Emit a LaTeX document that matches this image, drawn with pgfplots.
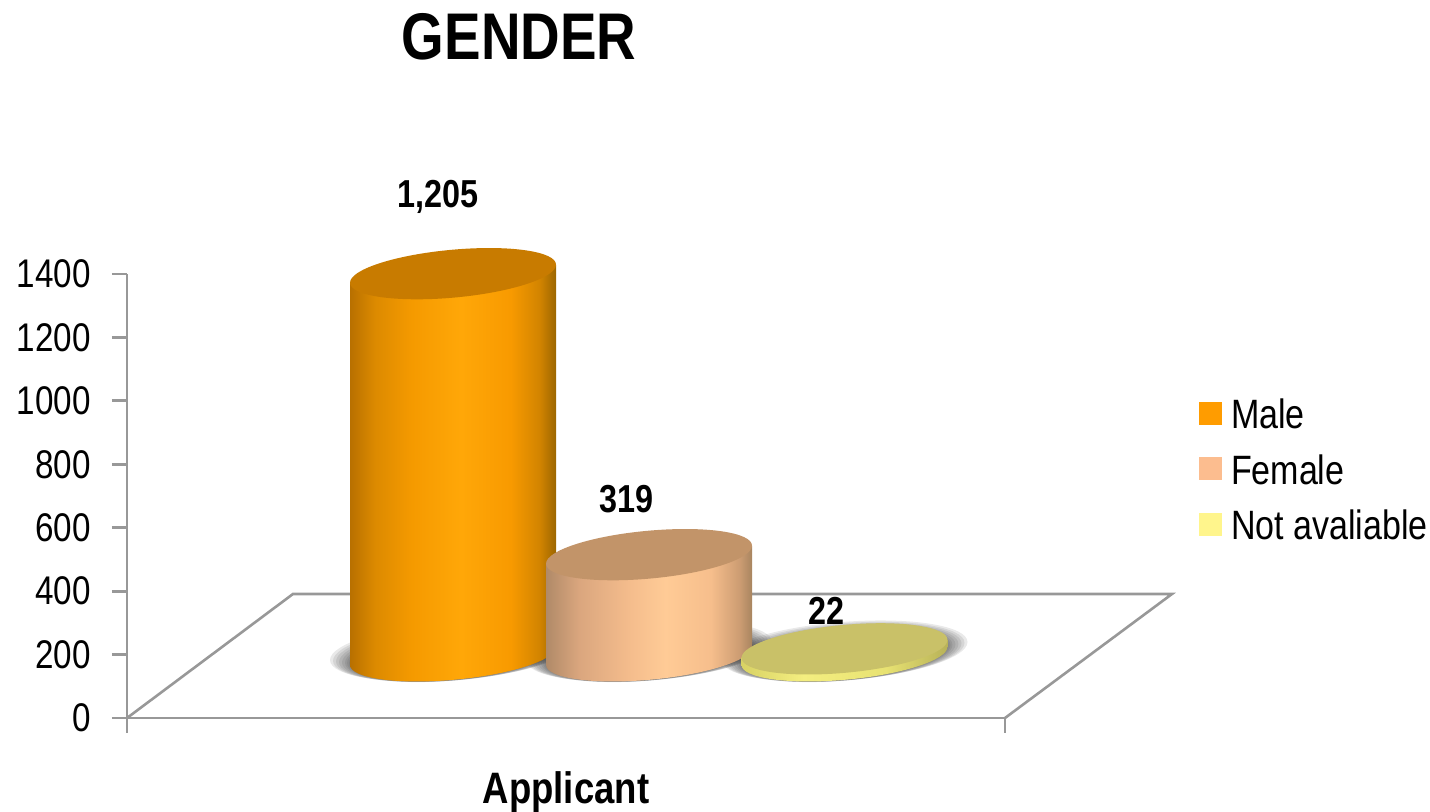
\documentclass[border=0pt]{standalone}
\usepackage{fontspec}
\setmainfont[FakeStretch=0.83]{Liberation Sans}
\usepackage{pgfplots}
\pgfplotsset{compat=1.18}
\definecolor{ax}{HTML}{989898}
\definecolor{mA}{HTML}{B87000}\definecolor{mB}{HTML}{DC8A00}\definecolor{mC}{HTML}{F59A00}\definecolor{mD}{HTML}{FFA708}\definecolor{mE}{HTML}{F89A00}\definecolor{mF}{HTML}{D28400}\definecolor{mG}{HTML}{9C6600}
\definecolor{fA}{HTML}{B08A68}\definecolor{fB}{HTML}{DAA67E}\definecolor{fC}{HTML}{F4BC8C}\definecolor{fD}{HTML}{FFCB96}\definecolor{fE}{HTML}{F6BE8C}\definecolor{fF}{HTML}{CC9C72}\definecolor{fG}{HTML}{A88560}
\definecolor{nA}{HTML}{D8D264}\definecolor{nB}{HTML}{F4EE80}\definecolor{nC}{HTML}{E8E272}\definecolor{nD}{HTML}{B8B258}
\definecolor{topM}{HTML}{C87B00}\definecolor{topF}{HTML}{C29469}\definecolor{topN}{HTML}{C9C168}
\definecolor{legM}{HTML}{FF9C00}\definecolor{legF}{HTML}{FCBD8F}\definecolor{legN}{HTML}{FFF58C}
\pgfdeclarehorizontalshading{cylM}{100bp}{color(0bp)=(mA);color(25bp)=(mA);color(31bp)=(mB);color(40bp)=(mC);color(52bp)=(mD);color(64bp)=(mE);color(71bp)=(mF);color(75bp)=(mG);color(100bp)=(mG)}
\pgfdeclarehorizontalshading{cylF}{100bp}{color(0bp)=(fA);color(25bp)=(fA);color(33bp)=(fB);color(45bp)=(fC);color(54bp)=(fD);color(65bp)=(fE);color(72bp)=(fF);color(75bp)=(fG);color(100bp)=(fG)}
\pgfdeclarehorizontalshading{cylN}{100bp}{color(0bp)=(nA);color(25bp)=(nA);color(40bp)=(nB);color(60bp)=(nC);color(75bp)=(nD);color(100bp)=(nD)}
\newcommand{\ringshadow}[3]{\pgfpathellipse{\pgfqpoint{0pt}{#3}}{\pgfqpoint{#1}{4.5pt}}{\pgfqpoint{0pt}{#2}}\pgfusepathqfill}
\newcommand{\baseellipse}[1]{\pgfpathellipse{\pgfpointorigin}{\pgfqpoint{51.5pt}{4.5pt}}{\pgfqpoint{0pt}{12pt}}\pgfshadepath{#1}{0}\pgfusepath{discard}}
\pgfdeclareplotmark{cyltop}{\pgfpathellipse{\pgfpointorigin}{\pgfqpoint{51.5pt}{4.5pt}}{\pgfqpoint{0pt}{12pt}}\pgfusepathqfill}
\pgfdeclareplotmark{cylshadow}{\pgfsetfillopacity{0.11}%
 \ringshadow{61.5pt}{14.6pt}{2.4pt}\ringshadow{60pt}{14.3pt}{2pt}\ringshadow{58.5pt}{14pt}{1.7pt}\ringshadow{57pt}{13.8pt}{1.4pt}\ringshadow{55.5pt}{13.5pt}{1.2pt}\ringshadow{54pt}{13.3pt}{1pt}\ringshadow{53pt}{13.1pt}{.9pt}\ringshadow{52pt}{13pt}{.8pt}}
\pgfdeclareplotmark{baseM}{\baseellipse{cylM}}
\pgfdeclareplotmark{baseF}{\baseellipse{cylF}}
\pgfdeclareplotmark{baseN}{\baseellipse{cylN}}
\pgfplotsset{every axis/.append style={scale only axis,width=439pt,height=222pt,at={(63.5pt,47pt)},anchor=south west,clip=false,xmin=127,xmax=1005},
  cyl/.style={hide axis,ymin=-196,ymax=1204}}
\begin{document}
\begin{tikzpicture}
\path[use as bounding box] (0,0) rectangle (715pt,406pt);
\begin{axis}[
  ymin=0,ymax=1400,
  axis x line=bottom,axis y line=left,
  axis line style={ax,line width=1.4pt,-},
  x axis line style={-},y axis line style={-},
  xtick={127,1005},xticklabels={},
  ytick={0,200,400,600,800,1000,1200,1400},
  tick style={ax,line width=1.4pt},
  tick align=outside,major tick length=7.5pt,
  /pgf/number format/assume math mode=true,
  /pgf/number format/1000 sep={},
  yticklabel style={font=\fontsize{20}{20}\selectfont,inner sep=0pt,xshift=-10.5pt},
  title={\bfseries GENDER},
  title style={at={(0.4465,1.507)},anchor=center,font=\fontsize{33}{33}\selectfont,inner sep=0pt},
  xlabel={\bfseries Applicant},
  xlabel style={at={(0.5,-0.167)},anchor=center,font=\fontsize{22}{22}\selectfont,inner sep=0pt},
]
\addplot[ax,line width=1.3pt,forget plot] coordinates {(127,0) (293,391) (1172,391) (1005,0)};
\end{axis}
% pgfplots draws an axis's marks after its paths, so each layer of the drawing has its own axis
\begin{axis}[cyl]
\addplot[only marks,mark=cylshadow,mark options={fill=black!80,draw=none},forget plot] coordinates {(453,0) (649,0) (844.5,0)};
\addplot[only marks,mark=baseM,forget plot] coordinates {(453,0)};
\end{axis}
\begin{axis}[cyl]
\addplot[draw=none,shading=cylM,forget plot] coordinates {(350,-28) (350,1177) (556,1233) (556,28)} -- cycle;
\addplot[only marks,mark=cyltop,mark options={fill=topM,draw=none},forget plot] coordinates {(453,1205)};
\addplot[only marks,mark=baseF,forget plot] coordinates {(649,0)};
\end{axis}
\begin{axis}[cyl]
\addplot[draw=none,shading=cylF,forget plot] coordinates {(546,-28) (546,291) (752,347) (752,28)} -- cycle;
\addplot[only marks,mark=cyltop,mark options={fill=topF,draw=none},forget plot] coordinates {(649,319)};
\addplot[only marks,mark=baseN,forget plot] coordinates {(844.5,0)};
\end{axis}
\begin{axis}[cyl,
  legend style={at={(1.2205,0.72)},anchor=north west,draw=none,fill=none,
    font=\fontsize{20.5}{20.5}\selectfont,inner sep=0pt,row sep=7.7pt,
    nodes={inner sep=0pt,text height=15pt,text depth=5pt},
    /tikz/column 1/.style={column sep=4.5pt}},
  legend cell align=left,
  legend image code/.code={\fill[draw=none,#1] (0pt,-3pt) rectangle (11.5pt,8.5pt);},
]
\addplot[draw=none,shading=cylN,forget plot] coordinates {(741,-28) (741,-6) (948,50) (948,28)} -- cycle;
\addplot[only marks,mark=cyltop,mark options={fill=topN,draw=none},forget plot] coordinates {(844.5,22)};
\addlegendimage{fill=legM}\addlegendentry{Male}
\addlegendimage{fill=legF}\addlegendentry{Female}
\addlegendimage{fill=legN}\addlegendentry{Not avaliable}
\node[anchor=base,inner sep=0pt,font=\fontsize{19.5}{19.5}\selectfont\bfseries] at (axis cs:438,1205) [yshift=33pt] {1,205};
\node[anchor=base,inner sep=0pt,font=\fontsize{19.5}{19.5}\selectfont\bfseries] at (axis cs:626,319) [yshift=21pt] {319};
\node[anchor=base,inner sep=0pt,font=\fontsize{19.5}{19.5}\selectfont\bfseries] at (axis cs:826,22) [yshift=12pt] {22};
\end{axis}
\end{tikzpicture}
\end{document}
